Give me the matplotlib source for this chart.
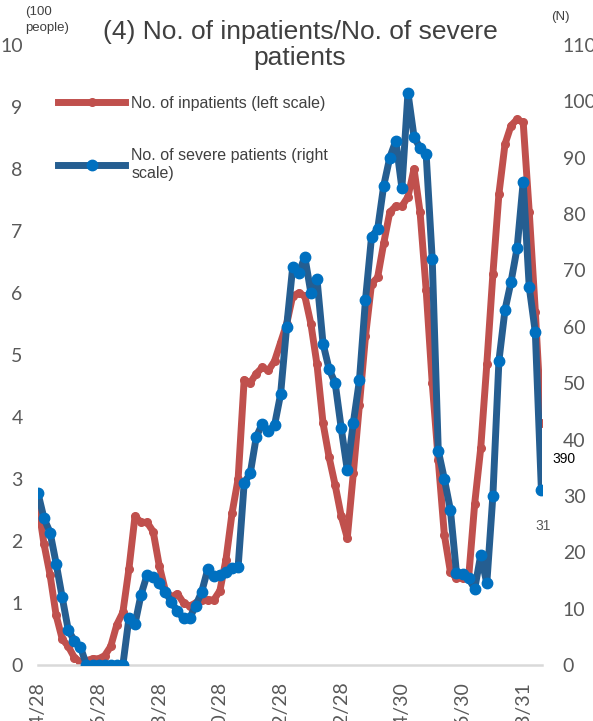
import matplotlib
matplotlib.use("Agg")
import matplotlib.pyplot as plt

# survey points, oldest first
inpatients = [
    2.6, 1.95, 1.45, 0.8, 0.42, 0.3, 0.12, 0.05, 0.07, 0.1,
    0.1, 0.15, 0.3, 0.65, 0.85, 1.55, 2.4, 2.3, 2.3, 2.15,
    1.6, 1.2, 1.1, 1.15, 1.0, 0.95, 1.0, 1.05, 1.05, 1.05,
    1.2, 1.7, 2.45, 3.0, 4.6, 4.55, 4.7, 4.8, 4.75, 4.9,
    5.2, 5.5, 5.95, 6.0, 5.95, 5.5, 4.85, 3.9, 3.35, 2.9,
    2.4, 2.05, 3.1, 4.2, 5.3, 6.15, 6.25, 6.8, 7.3, 7.4,
    7.4, 7.55, 8.0, 7.3, 6.05, 4.55, 3.3, 2.1, 1.5, 1.4,
    1.4, 1.4, 2.6, 3.5, 4.85, 6.3, 7.6, 8.4, 8.7, 8.8,
    8.75, 7.3, 5.7, 3.9,
]

severe = [
    30.5, 26, 23.5, 18, 12, 6.2, 4.3, 3.2, 0, 0,
    0, 0, 0, 0, 0, 8.3, 7.3, 12.5, 16, 15.6,
    14.5, 13, 11.2, 9.5, 8.3, 8.3, 10.5, 13, 17, 15.8,
    16, 16.5, 17.2, 17.4, 32.3, 34, 40.5, 42.8, 41.5, 42.5,
    48, 60, 70.6, 69.5, 72.4, 66, 68.5, 57, 52.5, 50,
    42, 34.6, 43, 50.5, 64.8, 76, 77.3, 85, 90, 93,
    84.6, 101.5, 93.7, 91.7, 90.6, 72, 38, 33, 27.5, 16.3,
    16.2, 15.4, 13.5, 19.5, 14.5, 30, 54, 63, 68, 74,
    85.7, 67, 59, 31,
]

# one label every 10 points
tick_labels = ["2020/4/28", "2020/6/28", "2020/8/28", "2020/10/28", "2020/12/28",
               "2021/2/28", "2021/4/30", "2021/6/30", "2021/8/31"]

red = "#C0504D"
blue_line = "#255E91"
blue_dot = "#0070C0"
grey = "#595959"

plt.rcParams["font.family"] = ["Liberation Sans", "DejaVu Sans"]

x = list(range(len(inpatients)))

fig = plt.figure(figsize=(5.93, 7.21), dpi=100)
ax = fig.add_axes([0.064, 0.0777, 0.850, 0.860])
ax2 = ax.twinx()

l1, = ax.plot(x, inpatients, color=red, lw=5, marker="o",
              markersize=5.5, solid_joinstyle="round",
              label="No. of inpatients (left scale)")
l2, = ax2.plot(x, severe, color=blue_line, lw=5, marker="o",
               markersize=7.5, markerfacecolor=blue_dot,
               markeredgecolor=blue_dot, solid_joinstyle="round",
               label="No. of severe patients (right\nscale)")

ax.set_ylim(0, 10)
ax2.set_ylim(0, 110)
ax.set_yticks(range(0, 11))
ax2.set_yticks(range(0, 111, 10))
ax.set_xlim(0, len(x) - 0.9)

ax.set_xticks(range(0, 10 * len(tick_labels), 10))
ax.set_xticklabels(tick_labels, rotation=90, fontsize=14, color=grey,
                   family="Lato")

for a in (ax, ax2):
    for s in a.spines.values():
        s.set_visible(False)
    a.tick_params(length=0)
ax.spines["bottom"].set_visible(True)
ax.spines["bottom"].set_color("#D9D9D9")
ax.spines["bottom"].set_linewidth(1.8)

ax.tick_params(axis="y", pad=11, labelsize=14, labelcolor=grey)
ax2.tick_params(axis="y", pad=15, labelsize=14, labelcolor=grey)
ax.tick_params(axis="x", pad=12)
for lab in ax.get_yticklabels() + ax2.get_yticklabels():
    lab.set_family("Lato")

fig.text(0.506, 0.9376, "(4) No. of inpatients/No. of severe\npatients",
         ha="center", va="center", fontsize=19, color="#404040",
         linespacing=1.12)
fig.text(0.042, 0.972, "(100\npeople)", ha="left", va="center",
         fontsize=9.5, color="#404040", linespacing=1.45)
fig.text(0.93, 0.976, "(N)", ha="left", va="center",
         fontsize=9.5, color="#404040")

leg = ax2.legend(handles=[l1, l2], loc="upper left",
                 bbox_to_anchor=(58 / 593, 1 - 96 / 721),
                 bbox_transform=fig.transFigure, borderaxespad=0, borderpad=0,
                 frameon=False, fontsize=11.5, handlelength=4.2,
                 labelspacing=2.3, handletextpad=0.4, labelcolor="#404040")
leg.get_texts()[1].set_linespacing(1.3)

# value labels on the last points
ax.annotate(f"{inpatients[-1] * 100:.0f}", xy=(x[-1], inpatients[-1]),
            xytext=(8, -26), textcoords="offset points", fontsize=10,
            color="black", ha="left", va="center")
ax2.annotate(f"{severe[-1]:.0f}", xy=(x[-1], severe[-1]),
             xytext=(-4, -26), textcoords="offset points", fontsize=10,
             color=grey, ha="left", va="center")

fig.savefig("out.png", dpi=100)
